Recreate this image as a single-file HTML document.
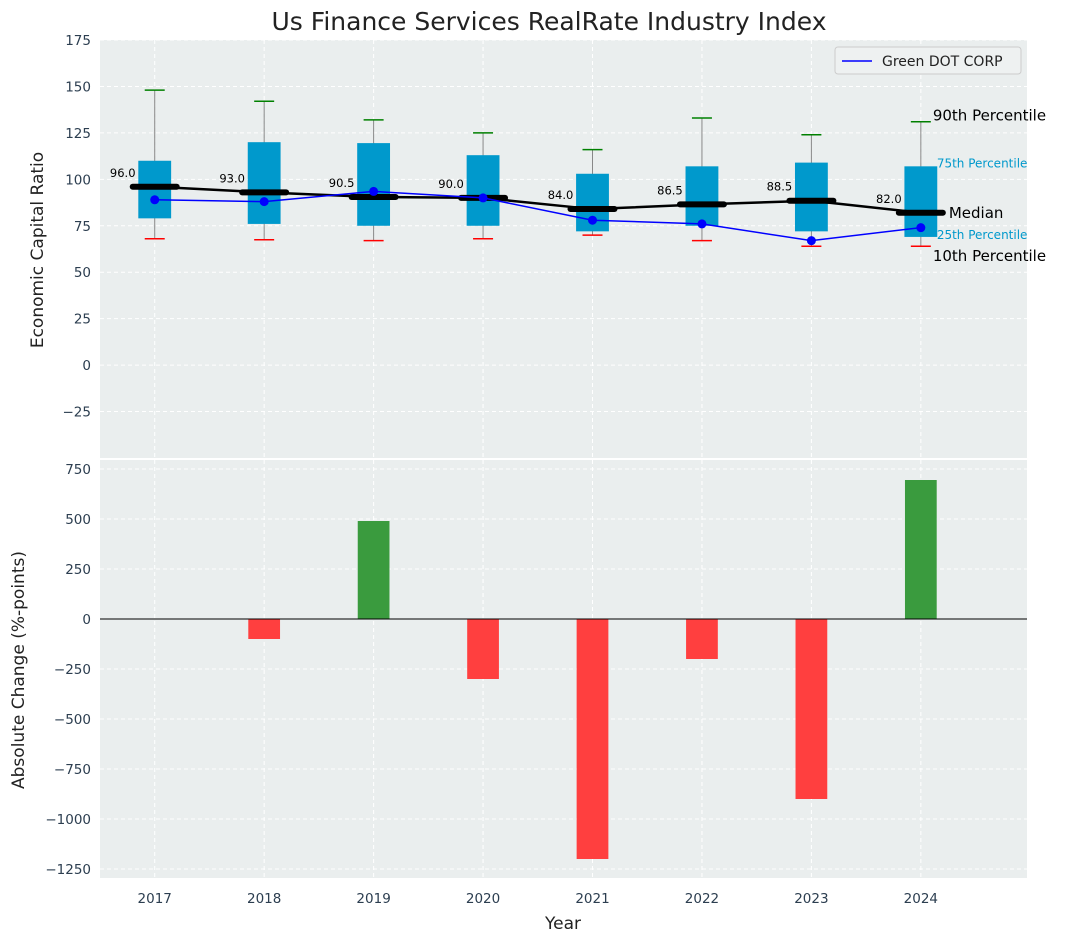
<!DOCTYPE html>
<html><head><meta charset="utf-8"><style>
body{margin:0;background:#fff;font-family:"Liberation Sans","DejaVu Sans",sans-serif}
svg text{font-family:"DejaVu Sans","Liberation Sans",sans-serif}
</style></head><body>
<svg id="c" width="1067" height="942" xmlns="http://www.w3.org/2000/svg"></svg>
<script>
const years=[2017,2018,2019,2020,2021,2022,2023,2024];
const q25=[79,76,75,75,72,75,72,69];
const q75=[110,120,119.5,113,103,107,109,107];
const p10=[68,67.5,67,68,70,67,64,64];
const p90=[148,142,132,125,116,133,124,131];
const medians=[96.0,93.0,90.5,90.0,84.0,86.5,88.5,82.0];
const company=[89,88,93.5,90,78,76,67,74];
const changes=[0,-100,490,-300,-1200,-200,-900,695];
const topTicks=[-25,0,25,50,75,100,125,150,175];
const botTicks=[-1250,-1000,-750,-500,-250,0,250,500,750];

const NS="http://www.w3.org/2000/svg",svg=document.getElementById('c');
function el(t,a,p){const e=document.createElementNS(NS,t);for(const k in a)e.setAttribute(k,a[k]);(p||svg).appendChild(e);return e;}
const L=100,R=1027;
const X=v=>L+(v-2016.5)/(2024.97-2016.5)*(R-L);
const T0=40,T1=458,B0=460,B1=878;
const YT=v=>T1-(v+50)/(225)*(T1-T0);
const YB=v=>B1-(v+1295)/(2090)*(B1-B0);
const pw=(R-L)/8.47;

function panel(y0,y1,ticks,Y,name){
  const g=el('g',{});
  
  el('rect',{x:L,y:y0,width:R-L,height:y1-y0,fill:'#eaeeee'},g);
  ticks.forEach(t=>{const y=Y(t);
    el('line',{x1:L,x2:R,y1:y,y2:y,stroke:'#fff','stroke-dasharray':'4,3','stroke-width':1},g);
    const tx=el('text',{x:L-9,y:y+5,'text-anchor':'end','font-size':13.5,fill:'#2c3e50'},g);tx.textContent=t<0?'\u2212'+(-t):t;
    });
  years.forEach(yr=>el('line',{x1:X(yr),x2:X(yr),y1:y0,y2:y1,stroke:'#fff','stroke-dasharray':'4,3'},g));
  return g;
}
panel(T0,T1,topTicks,YT,'top-panel');
panel(B0,B1,botTicks,YB,'bottom-panel');

years.forEach((yr,i)=>{const x=X(yr),bw=0.3*pw;
  const g=el('g',{});
  el('line',{x1:x,x2:x,y1:YT(p10[i]),y2:YT(p90[i]),stroke:'#888','stroke-width':1},g);
  el('rect',{x:x-bw/2,y:YT(q75[i]),width:bw,height:YT(q25[i])-YT(q75[i]),fill:'#0099cc'},g);
  el('line',{x1:x-10,x2:x+10,y1:YT(p90[i]),y2:YT(p90[i]),stroke:'green','stroke-width':1.5},g);
  el('line',{x1:x-10,x2:x+10,y1:YT(p10[i]),y2:YT(p10[i]),stroke:'red','stroke-width':1.5},g);
});
el('polyline',{points:years.map((y,i)=>X(y)+','+YT(medians[i])).join(' '),fill:'none',stroke:'#000','stroke-width':2.5});
years.forEach((yr,i)=>{const x=X(yr),y=YT(medians[i]);
  const m=el('line',{x1:x-22,x2:x+22,y1:y,y2:y,stroke:'#000','stroke-width':6,'stroke-linecap':'round'});
  
  const t=el('text',{x:x-32,y:y-10,'text-anchor':'middle','font-size':11.5,fill:'#000'});t.textContent=medians[i].toFixed(1);
});
el('polyline',{points:years.map((y,i)=>X(y)+','+YT(company[i])).join(' '),fill:'none',stroke:'blue','stroke-width':1.5});
years.forEach((yr,i)=>{const c=el('circle',{cx:X(yr),cy:YT(company[i]),r:4.5,fill:'blue'});
  });
const xa=X(2024);
[['90th Percentile',p90[7],15,'#000',12,-1],['75th Percentile',q75[7],12,'#0099cc',16,1],['Median',medians[7],15,'#000',28,5],['25th Percentile',q25[7],12,'#0099cc',16,2],['10th Percentile',p10[7],15,'#000',12,15]].forEach(a=>{
  const t=el('text',{x:xa+a[4],y:YT(a[1])+a[5],'font-size':a[2],fill:a[3]});t.textContent=a[0];
  });
const lg=el('g',{});
el('rect',{x:835,y:47,width:186,height:27,rx:3,fill:'#eef1f1',stroke:'#ccc'},lg);
el('line',{x1:842,x2:872,y1:61,y2:61,stroke:'blue','stroke-width':1.5},lg);
const lt=el('text',{x:882,y:66,'font-size':14,fill:'#222'},lg);lt.textContent='Green DOT CORP';

years.forEach((yr,i)=>{const v=changes[i];if(!v)return;const bw=0.29*pw;
  const r=el('rect',{x:X(yr)-bw/2,y:Math.min(YB(v),YB(0)),width:bw,height:Math.abs(YB(v)-YB(0)),fill:v>0?'#3a9b3e':'#ff3f3f'});
  });
el('line',{x1:L,x2:R,y1:YB(0),y2:YB(0),stroke:'#000','stroke-width':1});
years.forEach(yr=>{const t=el('text',{x:X(yr),y:903,'text-anchor':'middle','font-size':13.5,fill:'#2c3e50'});t.textContent=yr;
  });
function txt(s,a,name){const t=el('text',a);t.textContent=s;return t;}
txt('Us Finance Services RealRate Industry Index',{x:549,y:30,'text-anchor':'middle','font-size':25,fill:'#222'},'chart-title');
txt('Year',{x:563,y:929,'text-anchor':'middle','font-size':17,fill:'#222'},'x-axis-title');
txt('Economic Capital Ratio',{x:0,y:0,transform:'translate(43,250) rotate(-90)','text-anchor':'middle','font-size':17,fill:'#222'},'y-axis-title-top');
txt('Absolute Change (%-points)',{x:0,y:0,transform:'translate(24,670) rotate(-90)','text-anchor':'middle','font-size':17,fill:'#222'},'y-axis-title-bottom');
</script></body></html>
